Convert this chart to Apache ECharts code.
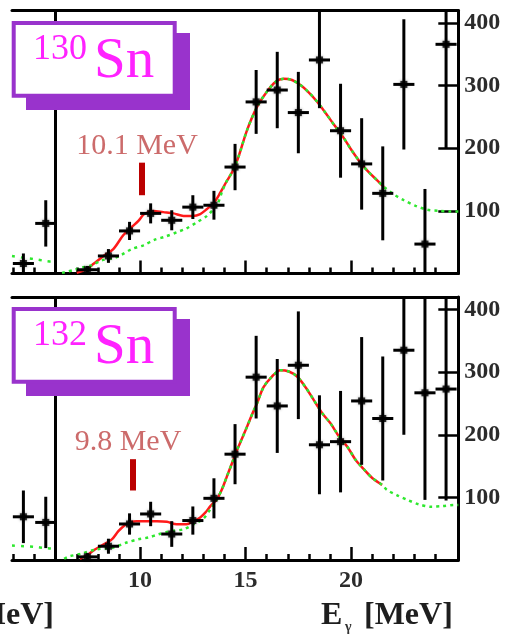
<!DOCTYPE html>
<html><head><meta charset="utf-8">
<script src="https://cdn.jsdelivr.net/npm/echarts@6/dist/echarts.min.js"></script>
<style>html,body{margin:0;padding:0;background:#fff}#c{width:505px;height:634px}</style>
</head><body><div id="c"></div>
<script>
// ---------- data ----------
const xMin = 3.93, xMax = 25.08, yMin = 0, yMax = 420;
const xTickLabels = [10, 15, 20];
const xMinorTicks = [4,5,6,7,8,9,11,12,13,14,16,17,18,19,21,22,23,24];
const yTickLabels = [100, 200, 300, 400];
const panelEdgeE = 6;
const binHalfWidth = 0.5;

// data bins (MeV)
const binE = [7.5,8.5,9.5,10.5,11.5,12.5,13.5,14.5,15.5,16.5,17.5,18.5,19.5,20.5,21.5,22.5,23.5,24.5];

// 130Sn
const sn130Y   = [6,28,68,96,85,106,109,170,274,293,257,341,228,175,128,302,47,366];
const sn130Err = [6,11,14.5,16,16,19,23,37,51,61,65,77,75,73,75,104,88,167];
const sn130PrevE = [4.47, 5.53];
const sn130PrevY = [16, 80];
const sn130PrevErr = [16, 37];
const sn130PrevCurveE = [3.93, 4.5, 5.0, 5.5, 6.0];
const sn130PrevCurveY = [28, 25, 23, 20, 18];
const sn130RedE = [7.0,7.4,7.78,8.26,8.73,9.2,9.6,9.92,10.16,10.4,10.63,11.1,11.58,12.06,12.5,12.85,13.17,13.5,13.8,14.1,14.43,14.67,15.07,15.54,16.0,16.41,16.81,17.2,17.6,18.0,18.4,18.8,19.2,19.6,20.0,20.4,20.8,21.2,21.56];
const sn130RedY = [1,6,15,28,39,61,74,84,94,98,100,98,96,92,92,95,103,113,129,147,166,187,229,266,290,306,311,309,301,289,274,256,237,219,198,179,163,150,138];
const sn130GreenE = [6.3,6.8,7.2,7.7,8.18,8.8,9.13,9.6,10.16,10.7,11.2,11.75,12.2,12.7,13.17,13.65,13.9,14.1,14.43,14.67,15.07,15.54,16.0,16.41,16.81,17.2,17.6,18.0,18.4,18.8,19.2,19.6,20.0,20.4,20.8,21.2,21.56,22.04,22.5,23.06,23.6,24.17,24.7,25.08];
const sn130GreenY = [1,5,9,13,21,25,30,39,45,54,59,66,72,82,92,110,132,147,166,187,229,266,290,306,311,309,301,289,274,256,237,219,198,179,163,150,138,126,117,108,102,100,99,99];
const sn130PeakE = 10.1, sn130PeakRange = [125, 177], sn130PeakLabel = '10.1 MeV';

// 132Sn
const sn132Y   = [5,22,57.5,73.5,41.5,63,98.5,169,292,246,311,184,189,254,226,335,267,273];
const sn132Err = [6,12,17,19.5,20.5,22.5,32,48,66,75,86,79,81,102,99,135,171,178];
const sn132PrevE = [4.47, 5.53];
const sn132PrevY = [69, 60];
const sn132PrevErr = [42, 41];
const sn132PrevCurveE = [3.93, 4.5, 5.0, 5.5, 6.0];
const sn132PrevCurveY = [23, 22, 21, 19, 18];
const sn132RedE = [7.15,7.5,7.78,8.18,8.66,8.97,9.29,9.6,9.84,10.32,10.8,11.27,11.74,12.2,12.53,12.85,13.1,13.33,13.64,13.88,14.12,14.36,14.6,14.83,15.07,15.3,15.54,15.85,16.25,16.65,17.05,17.44,17.84,18.24,18.64,19.03,19.43,19.82,20.21,20.6,21.0,21.47];
const sn132RedY = [2,8,15,23,33,46,56,61,62,62,62,61,57,57,62,68,76,86,97,113,134,155,176,194,213,232,250,276,293,303,301,293,276,255,234,218,197,181,160,145,131,120];
const sn132GreenE = [6.4,6.67,7.2,7.94,8.73,9.37,9.92,10.4,10.87,11.43,12.06,12.53,13.0,13.33,13.64,13.88,14.12,14.36,14.6,14.83,15.07,15.3,15.54,15.85,16.25,16.65,17.05,17.44,17.84,18.24,18.64,19.03,19.43,19.82,20.21,20.6,21.0,21.47,21.7,22.2,22.67,23.2,23.8,24.3,24.9,25.08];
const sn132GreenY = [2,6,10,17,20,28,33,36,41,46,49,57,66,81,97,113,134,155,176,194,213,232,250,276,293,303,301,293,276,255,234,218,197,181,160,145,131,120,112,103,96,89,85,86,88,88];
const sn132PeakE = 9.65, sn132PeakRange = [111, 161], sn132PeakLabel = '9.8 MeV';

// ---------- styles ----------
const SERIF = '"Liberation Serif", "DejaVu Serif", serif';
const RED = '#ff1a1a', GREEN = '#2ee82e', PURPLE = '#9933cc', MAGENTA = '#ff22ff';

const panels = [
  {top: 10.5, Y: sn130Y, Err: sn130Err, pE: sn130PrevE, pY: sn130PrevY, pErr: sn130PrevErr,
   pcE: sn130PrevCurveE, pcY: sn130PrevCurveY, rE: sn130RedE, rY: sn130RedY, gE: sn130GreenE, gY: sn130GreenY,
   peakE: sn130PeakE, peakR: sn130PeakRange, showLabels: false},
  {top: 297, Y: sn132Y, Err: sn132Err, pE: sn132PrevE, pY: sn132PrevY, pErr: sn132PrevErr,
   pcE: sn132PrevCurveE, pcY: sn132PrevCurveY, rE: sn132RedE, rY: sn132RedY, gE: sn132GreenE, gY: sn132GreenY,
   peakE: sn132PeakE, peakR: sn132PeakRange, showLabels: true}
];

const grids = [], xAxes = [], yAxes = [], series = [];
const zip = (a, b) => a.map((v, i) => [v, b[i]]);

function errSeries(xi, yi, E, Y, ERR) {
  return {
    type: 'custom', xAxisIndex: xi, yAxisIndex: yi, z: 5, silent: true,
    data: E.map((e, i) => [e, Y[i], ERR[i]]),
    renderItem: function (params, api) {
      const x = api.value(0), y = api.value(1), err = api.value(2);
      const lo = Math.max(yMin, y - err), hi = Math.min(yMax, y + err);
      const p1 = api.coord([x, lo]), p2 = api.coord([x, hi]);
      const h1 = api.coord([Math.max(xMin, x - binHalfWidth), y]), h2 = api.coord([x + binHalfWidth, y]);
      return {type: 'group', children: [
        {type: 'line', shape: {x1: p1[0], y1: p1[1], x2: p2[0], y2: p2[1]}, style: {stroke: '#000', lineWidth: 3}},
        {type: 'line', shape: {x1: h1[0], y1: h1[1], x2: h2[0], y2: h2[1]}, style: {stroke: '#000', lineWidth: 3}}
      ]};
    }
  };
}

panels.forEach((p, k) => {
  grids.push({left: 12, top: p.top, width: 446.3, height: 263, containLabel: false});
  const base = xAxes.length;
  // main bottom axis with long ticks and labels
  xAxes.push({gridIndex: k, type: 'value', min: xMin, max: xMax, position: 'bottom',
    axisLine: {show: true, onZero: false, lineStyle: {color: '#000', width: 3}},
    axisTick: {show: true, inside: true, length: 13, customValues: xTickLabels, lineStyle: {color: '#000', width: 2.5}},
    axisLabel: {show: p.showLabels, customValues: xTickLabels, margin: 9,
      fontFamily: SERIF, fontWeight: 'bold', fontSize: 24, color: '#2b2b2b'},
    splitLine: {show: false}});
  // minor ticks
  xAxes.push({gridIndex: k, type: 'value', min: xMin, max: xMax, position: 'bottom',
    axisLine: {show: false, onZero: false},
    axisTick: {show: true, inside: true, length: 6, customValues: xMinorTicks, lineStyle: {color: '#000', width: 2.5}},
    axisLabel: {show: false}, splitLine: {show: false}});
  // top border
  xAxes.push({gridIndex: k, type: 'value', min: xMin, max: xMax, position: 'top',
    axisLine: {show: true, onZero: false, lineStyle: {color: '#000', width: 3}},
    axisTick: {show: false}, axisLabel: {show: false}, splitLine: {show: false}});
  yAxes.push({gridIndex: k, type: 'value', min: yMin, max: yMax, position: 'right',
    axisLine: {show: true, onZero: false, lineStyle: {color: '#000', width: 3}},
    axisTick: {show: true, inside: true, length: 20, customValues: yTickLabels, lineStyle: {color: '#000', width: 2.5}},
    axisLabel: {show: true, customValues: yTickLabels, margin: 6,
      fontFamily: SERIF, fontWeight: 'bold', fontSize: 24, color: '#2b2b2b'},
    splitLine: {show: false}});

  const xi = base, yi = k;
  // neighbouring panel curve
  series.push({type: 'line', xAxisIndex: xi, yAxisIndex: yi, data: zip(p.pcE, p.pcY), showSymbol: false,
    smooth: 0.3, z: 2, lineStyle: {color: GREEN, width: 2.5, type: [3, 6]},
    markLine: {silent: true, symbol: 'none', label: {show: false},
      lineStyle: {color: '#000', width: 3, type: 'solid'}, data: [{xAxis: panelEdgeE}]}});
  // red fit curve
  series.push({type: 'line', xAxisIndex: xi, yAxisIndex: yi, data: zip(p.rE, p.rY), showSymbol: false,
    smooth: 0.3, z: 3, lineStyle: {color: RED, width: 2.5},
    markLine: {silent: true, symbol: 'none', label: {show: false},
      lineStyle: {color: '#bb0000', width: 6, type: 'solid'},
      data: [[{coord: [p.peakE, p.peakR[0]]}, {coord: [p.peakE, p.peakR[1]]}]]}});
  // green dashed curve
  series.push({type: 'line', xAxisIndex: xi, yAxisIndex: yi, data: zip(p.gE, p.gY), showSymbol: false,
    smooth: 0.3, z: 4, lineStyle: {color: GREEN, width: 2.5, type: [3, 4]}});
  // error bars
  series.push(errSeries(xi, yi, binE, p.Y, p.Err));
  series.push(errSeries(xi, yi, p.pE, p.pY, p.pErr));
  // points
  series.push({type: 'scatter', xAxisIndex: xi, yAxisIndex: yi, z: 6, symbol: 'rect', symbolSize: 7,
    data: zip(binE.concat(p.pE), p.Y.concat(p.pY)),
    itemStyle: {color: '#000', shadowBlur: 3, shadowColor: 'rgba(0,0,0,0.55)'}});
});

function nucleusBox(dy, mass) {
  return [
    {type: 'rect', shape: {x: 26, y: 33 + dy, width: 164, height: 77}, style: {fill: PURPLE}, z: 100},
    {type: 'rect', shape: {x: 13.7, y: 23 + dy, width: 161, height: 72.7}, style: {fill: '#fff', stroke: PURPLE, lineWidth: 4}, z: 101},
    {type: 'text', x: 33, y: 50 + dy, z: 102, style: {text: mass, font: 'normal 36px ' + SERIF, fill: MAGENTA, align: 'left', verticalAlign: 'middle'}},
    {type: 'text', x: 94, y: 62 + dy, z: 102, style: {text: 'Sn', font: 'normal 57px ' + SERIF, fill: MAGENTA, align: 'left', verticalAlign: 'middle'}}
  ];
}

const graphic = []
  .concat(nucleusBox(0, '130'))
  .concat(nucleusBox(286, '132'))
  .concat([
    {type: 'text', x: 137, y: 146, z: 50, style: {text: sn130PeakLabel, font: 'normal 30px ' + SERIF, fill: '#cc6b6b', align: 'center', verticalAlign: 'middle'}},
    {type: 'text', x: 128, y: 442, z: 50, style: {text: sn132PeakLabel, font: 'normal 30px ' + SERIF, fill: '#cc6b6b', align: 'center', verticalAlign: 'middle'}},
    {type: 'text', x: 321, y: 616, z: 50, style: {text: 'E', font: 'bold 32px ' + SERIF, fill: '#1e1e1e', align: 'left', verticalAlign: 'middle'}},
    {type: 'text', x: 345, y: 627, z: 50, style: {text: 'γ', font: 'bold 14px ' + SERIF, fill: '#333', align: 'left', verticalAlign: 'middle'}},
    {type: 'text', x: 364, y: 616, z: 50, style: {text: '[MeV]', font: 'bold 32px ' + SERIF, fill: '#1e1e1e', align: 'left', verticalAlign: 'middle'}},
    {type: 'text', x: 54, y: 616, z: 50, style: {text: '[MeV]', font: 'bold 32px ' + SERIF, fill: '#1e1e1e', align: 'right', verticalAlign: 'middle'}}
  ]);

const chart = echarts.init(document.getElementById('c'), null, {renderer: 'canvas'});
chart.setOption({
  animation: false,
  backgroundColor: '#fff',
  grid: grids, xAxis: xAxes, yAxis: yAxes, series: series, graphic: graphic
});
</script></body></html>
